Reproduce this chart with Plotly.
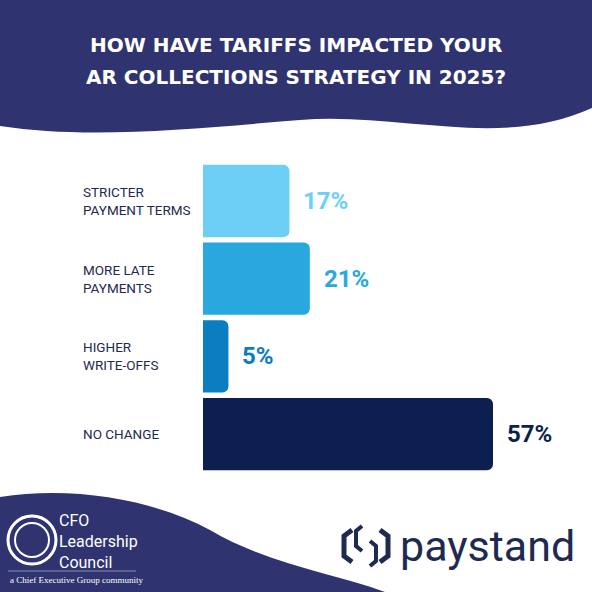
import plotly.graph_objects as go

categories = ["STRICTER<br>PAYMENT TERMS", "MORE LATE<br>PAYMENTS", "HIGHER<br>WRITE-OFFS", "NO CHANGE"]
values = [17, 21, 5, 57]
colors = ["#6ecff6", "#29a8e0", "#0b7dc1", "#0d1f4f"]
title_lines = ["HOW HAVE TARIFFS IMPACTED YOUR", "AR COLLECTIONS STRATEGY IN 2025?"]

W = H = 592
NAVY = "#2f3470"

def P(pts):
    out = []
    for tok in pts:
        if isinstance(tok, str):
            out.append(tok)
        else:
            x, y = tok
            out.append(f"{x/W:.4f},{1-y/H:.4f}")
    return " ".join(out)

fig = go.Figure()
fig.add_trace(go.Bar(
    y=list(range(len(categories))), x=values, orientation="h",
    marker=dict(color=colors, cornerradius=6, line=dict(width=0)),
    width=0.93, hoverinfo="skip"))

shapes = [
    dict(type="path", xref="paper", yref="paper", layer="below", fillcolor=NAVY, line=dict(width=0),
         path=P(["M", (0, 0), "L", (592, 0), "L", (592, 108), "C", (500, 150), (400, 112), (300, 120),
                 "C", (200, 128), (90, 140), (0, 126), "Z"])),
    dict(type="path", xref="paper", yref="paper", layer="below", fillcolor=NAVY, line=dict(width=0),
         path=P(["M", (0, 592), "L", (0, 497), "C", (70, 486), (150, 498), (210, 530),
                 "C", (270, 565), (330, 572), (385, 592), "Z"])),
    dict(type="circle", xref="paper", yref="paper", line=dict(color="white", width=3),
         x0=8/W, x1=56/W, y0=1-564/H, y1=1-516/H),
    dict(type="circle", xref="paper", yref="paper", line=dict(color="white", width=2),
         x0=15/W, x1=49/W, y0=1-557/H, y1=1-523/H),
    dict(type="line", xref="paper", yref="paper", line=dict(color="#8a8fb8", width=1),
         x0=8/W, x1=136/W, y0=1-571/H, y1=1-571/H),
    dict(type="path", xref="paper", yref="paper", line=dict(color="#1e2a4f", width=5),
         path=P(["M", (352, 530), "L", (344, 536), "L", (344, 556), "L", (352, 562)])),
    dict(type="path", xref="paper", yref="paper", line=dict(color="#1e2a4f", width=5),
         path=P(["M", (380, 530), "L", (388, 536), "L", (388, 556), "L", (380, 562)])),
    dict(type="path", xref="paper", yref="paper", line=dict(color="#1e2a4f", width=4),
         path=P(["M", (362, 526), "L", (356, 531), "L", (356, 546), "L", (362, 551)])),
    dict(type="path", xref="paper", yref="paper", line=dict(color="#1e2a4f", width=4),
         path=P(["M", (370, 541), "L", (376, 546), "L", (376, 561), "L", (370, 566)])),
]

ann = []
for i, t in enumerate(title_lines):
    ann.append(dict(xref="paper", yref="paper", x=0.5, y=1-(45+32*i)/H, yanchor="middle",
                    text=f"<b>{t}</b>", showarrow=False,
                    font=dict(family="DejaVu Sans", size=20, color="white")))
for i, (c, v, col) in enumerate(zip(categories, values, colors)):
    ann.append(dict(x=(81-203)/(290/57), y=i, xref="x", yref="y", text=c, showarrow=False,
                    xanchor="left", align="left",
                    font=dict(family="Roboto", size=13.5, color="#1e2a4f")))
    ann.append(dict(x=v, y=i, xref="x", yref="y", text=f"<b>{v}%</b>", showarrow=False,
                    xanchor="left", xshift=12, font=dict(family="Roboto", size=24, color=col)))
ann += [
    dict(xref="paper", yref="paper", x=57/W, y=1-541/H, yanchor="middle",
         text="CFO<br>Leadership<br>Council",
         showarrow=False, xanchor="left", align="left",
         font=dict(family="Roboto", size=16, color="white")),
    dict(xref="paper", yref="paper", x=8/W, y=1-580/H, yanchor="middle",
         text="a Chief Executive Group community",
         showarrow=False, xanchor="left", font=dict(family="Liberation Serif", size=9, color="white")),
    dict(xref="paper", yref="paper", x=398/W, y=1-546/H, yanchor="middle", text="paystand",
         showarrow=False, xanchor="left", font=dict(family="Roboto", size=43, color="#1e2a4f")),
]

px0 = 203; ppu = 290/57
fig.update_layout(
    width=W, height=H, margin=dict(l=0, r=0, t=0, b=0),
    paper_bgcolor="white", plot_bgcolor="rgba(0,0,0,0)", showlegend=False,
    xaxis=dict(range=[-px0/ppu, (W-px0)/ppu], visible=False, fixedrange=True),
    yaxis=dict(range=[(W-201)/77.7, -201/77.7], visible=False, fixedrange=True),
    shapes=shapes, annotations=ann)
fig.write_html("out.html", config={"displayModeBar": False})
with open("out.html") as f:
    html = f.read()
html = html.replace("<head>", "<head><style>html,body{margin:0;padding:0;overflow:hidden}</style>", 1)
with open("out.html", "w") as f:
    f.write(html)
